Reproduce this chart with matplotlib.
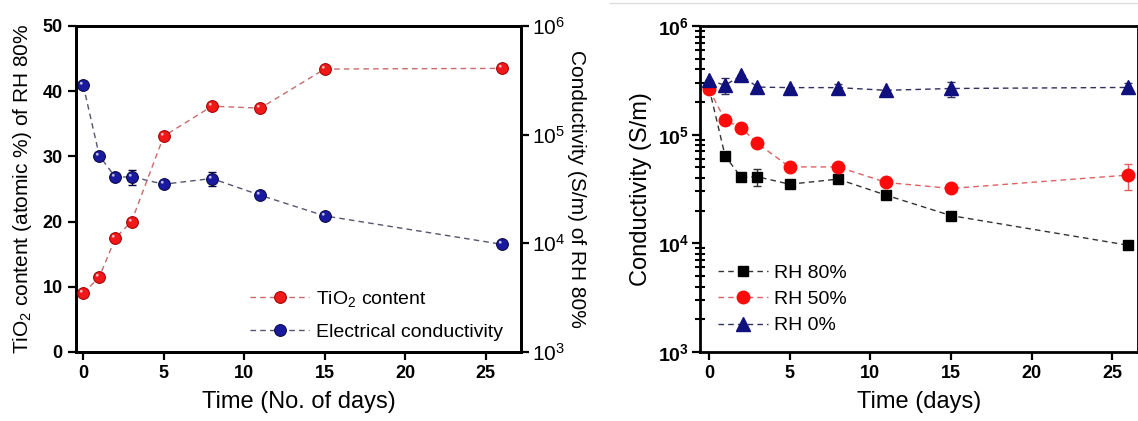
import numpy as np
import matplotlib
matplotlib.use('Agg')
import matplotlib.pyplot as plt
from matplotlib.path import Path
from matplotlib.lines import Line2D
from matplotlib.ticker import NullLocator, NullFormatter

plt.rcParams.update({'font.family': ['Liberation Sans', 'DejaVu Sans'],
                     'mathtext.fontset': 'custom',
                     'mathtext.rm': 'Liberation Sans',
                     'mathtext.it': 'Liberation Sans:italic',
                     'mathtext.bf': 'Liberation Sans:bold',
                     'axes.linewidth': 2.0})

# ---- data ----
days = [0, 1, 2, 3, 5, 8, 11, 15, 26]

# left panel
tio2 = [9.0, 11.5, 17.5, 20.0, 33.1, 37.7, 37.4, 43.4, 43.5]
cond_rh80 = [2.85e5, 6.4e4, 4.05e4, 4.1e4, 3.5e4, 3.95e4, 2.77e4, 1.79e4, 9.8e3]
cond_rh80_err = [0, 0, 0, 6.5e3, 0, 6e3, 0, 0, 0]

# right panel
rh80 = [2.7e5, 6.35e4, 4.05e4, 4.1e4, 3.5e4, 3.9e4, 2.77e4, 1.8e4, 9.6e3]
rh80_err = [0, 0, 0, 7e3, 0, 0, 0, 0, 0]
rh50 = [2.61e5, 1.36e5, 1.16e5, 8.3e4, 5.05e4, 5.05e4, 3.63e4, 3.2e4, 4.25e4]
rh50_err = [0, 0, 0, 0, 0, 0, 0, 0, 1.15e4]
rh0 = [3.16e5, 2.85e5, 3.52e5, 2.74e5, 2.71e5, 2.71e5, 2.56e5, 2.66e5, 2.72e5]
rh0_err = [0, 4.6e4, 0, 0, 0, 2.4e4, 0, 4.2e4, 2.7e4]

DASH = (0, (4, 3))

# small circle offset up-left; marker normalisation keeps the offset
HL = Path.circle((-0.38, 0.38), 0.24)
HL_EXT = np.abs(HL.vertices).max()


def spheres(ax, x, y, yerr, color, edge, line_color, ms, label):
    if yerr is not None:
        ax.errorbar(x, y, yerr=yerr, fmt='none', ecolor=edge, elinewidth=1.0,
                    capsize=3, capthick=1.0, zorder=3)
    ax.plot(x, y, ls=DASH, lw=1.0, color=line_color, marker='o', ms=ms,
            mfc=color, mec=edge, mew=0.7, label=label, zorder=4, clip_on=False)
    ax.plot(x, y, ls='none', marker=HL, ms=ms * HL_EXT,
            mfc='white', mec='none', alpha=0.7, zorder=5, clip_on=False)


def series(ax, x, y, yerr, marker, ms, color, line_color, label, z):
    ax.errorbar(x, y, yerr=yerr, fmt='none', ecolor=line_color, elinewidth=1.0,
                capsize=3, capthick=1.0, zorder=z)
    ax.plot(x, y, ls=DASH, lw=1.0, color=line_color, marker=marker, ms=ms,
            mfc=color, mec=color, label=label, zorder=z, clip_on=False)


fig = plt.figure(figsize=(11.38, 4.21), dpi=100)

# ---------------- left panel ----------------
ax = fig.add_axes([76 / 1138, 69 / 421, 445 / 1138, 326 / 421])
ax2 = ax.twinx()
ax.set_zorder(2)
ax.patch.set_visible(False)

spheres(ax, days, tio2, None, '#f01818', '#9a0000', '#c86a6a', 8.5, 'TiO$_2$ content')
spheres(ax2, days, cond_rh80, cond_rh80_err, '#1a1aa0', '#05053a', '#55556e', 8.5,
        'Electrical conductivity')

ax.set_xlim(-0.45, 27.2)
ax.set_ylim(0, 50)
ax2.set_yscale('log')
ax2.set_ylim(1e3, 1e6)
ax.set_xticks([0, 5, 10, 15, 20, 25])
ax.set_yticks([0, 10, 20, 30, 40, 50])
ax2.set_yticks([1e3, 1e4, 1e5, 1e6])
ax2.set_yticklabels([r'$10^{3}$', r'$10^{4}$', r'$10^{5}$', r'$10^{6}$'])
ax2.yaxis.set_minor_locator(NullLocator())
for a in (ax, ax2):
    a.tick_params(direction='out', length=6, width=1.6)
for lab in ax.get_xticklabels() + ax.get_yticklabels():
    lab.set_fontweight('bold')
    lab.set_fontsize(13)
ax2.tick_params(axis='y', labelsize=15, pad=2)

ax.set_xlabel('Time (No. of days)', fontsize=17, labelpad=6)
ax.set_ylabel('TiO$_2$ content (atomic %) of RH 80%', fontsize=15, labelpad=6)
ax2.set_ylabel('Conductivity (S/m) of RH 80%', fontsize=15, rotation=270,
               labelpad=15)

h1, l1 = ax.get_legend_handles_labels()
h2, l2 = ax2.get_legend_handles_labels()
ax.legend(h1 + h2, l1 + l2, loc='lower right', frameon=False, fontsize=14,
          handlelength=3.0, handletextpad=0.4, labelspacing=0.75,
          bbox_to_anchor=(1.0, -0.02))

# ---------------- right panel ----------------
bx = fig.add_axes([700 / 1138, 69 / 421, 438 / 1138, 326 / 421])
series(bx, days, rh80, rh80_err, 's', 7, 'black', '#333333', 'RH 80%', 3)
series(bx, days, rh50, rh50_err, 'o', 9, '#ff0a0a', '#e06060', 'RH 50%', 4)
series(bx, days, rh0, rh0_err, '^', 10, '#10107e', '#303060', 'RH 0%', 5)

bx.set_yscale('log')
bx.set_ylim(1e3, 1e6)
bx.set_xlim(-0.56, 26.6)
bx.set_xticks([0, 5, 10, 15, 20, 25])
bx.set_yticks([1e3, 1e4, 1e5, 1e6])
bx.set_yticklabels([r'$\mathbf{10^{3}}$', r'$\mathbf{10^{4}}$',
                    r'$\mathbf{10^{5}}$', r'$\mathbf{10^{6}}$'])
minor = [m * 10.0 ** d for d in (3, 4, 5) for m in range(2, 10)]
bx.set_yticks(minor, minor=True)
bx.yaxis.set_minor_formatter(NullFormatter())
bx.tick_params(which='major', direction='out', length=6, width=1.6)
bx.tick_params(which='minor', axis='y', direction='inout', length=7, width=1.5,
               left=True, color='black')
bx.tick_params(axis='y', labelsize=14, pad=2)
for lab in bx.get_xticklabels():
    lab.set_fontweight('bold')
    lab.set_fontsize(13)
bx.set_xlabel('Time (days)', fontsize=17, labelpad=6)
bx.set_ylabel('Conductivity (S/m)', fontsize=17, labelpad=4)
bx.legend(loc='lower left', frameon=False, fontsize=14, handlelength=2.6,
          handletextpad=0.3, labelspacing=0.45, bbox_to_anchor=(0.0, 0.0))

# faint border line of the original screenshot
fig.add_artist(Line2D([610 / 1138, 1.0], [1 - 3 / 421, 1 - 3 / 421],
                      color='#dddddd', lw=1.0))

fig.savefig('out.png', dpi=100)
